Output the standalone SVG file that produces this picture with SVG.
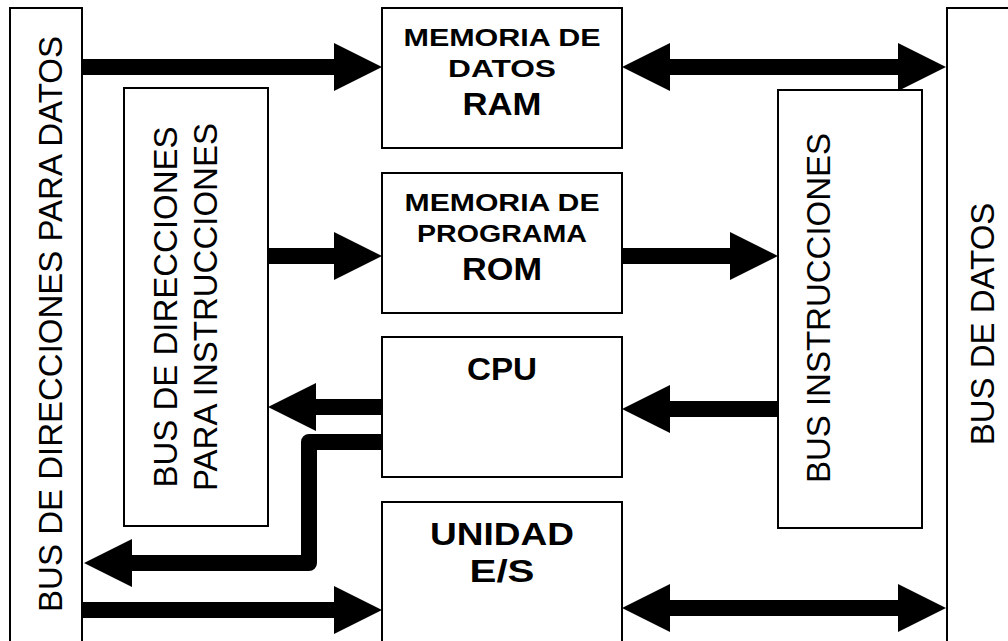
<svg xmlns="http://www.w3.org/2000/svg" width="1008" height="641" viewBox="0 0 1008 641">
<style>
.box{fill:#fff;stroke:#000;stroke-width:2}
.bt{font-family:"Liberation Sans",Arial,sans-serif;font-weight:bold;fill:#000;text-anchor:middle}
.s{font-size:24px}
.b{font-size:32px}
.vt{font-family:"Liberation Sans",Arial,sans-serif;font-size:33px;fill:#000;text-anchor:middle}
.bus{fill:none;stroke:#000;stroke-width:16}
</style>
<defs>
<marker id="ah" markerUnits="userSpaceOnUse" markerWidth="48" markerHeight="48" viewBox="0 0 48 48" refX="0" refY="24" orient="auto-start-reverse">
<path d="M0,0 L48,24 L0,48 Z" fill="#000"/>
</marker>
</defs>
<rect width="1008" height="641" fill="#fff"/>
<g id="bus-dir-datos">
<rect class="box" x="10" y="8" width="72" height="645"/>
<text class="vt" transform="translate(62,324) rotate(-90)">BUS DE DIRECCIONES PARA DATOS</text>
</g>
<g id="bus-dir-instr">
<rect class="box" x="124" y="88" width="144" height="438"/>
<text class="vt" transform="translate(177,307) rotate(-90)">BUS DE DIRECCIONES</text>
<text class="vt" transform="translate(217,307) rotate(-90)">PARA INSTRUCCIONES</text>
</g>
<g id="ram">
<rect class="box" x="382" y="8" width="240" height="140"/>
<text class="bt s" x="502" y="46" textLength="197" lengthAdjust="spacingAndGlyphs">MEMORIA DE</text>
<text class="bt s" x="502" y="77" textLength="108" lengthAdjust="spacingAndGlyphs">DATOS</text>
<text class="bt b" x="502" y="115" textLength="79" lengthAdjust="spacingAndGlyphs">RAM</text>
</g>
<g id="rom">
<rect class="box" x="382" y="173" width="240" height="140"/>
<text class="bt s" x="502" y="211" textLength="195" lengthAdjust="spacingAndGlyphs">MEMORIA DE</text>
<text class="bt s" x="502" y="242" textLength="170" lengthAdjust="spacingAndGlyphs">PROGRAMA</text>
<text class="bt b" x="502" y="280" textLength="80" lengthAdjust="spacingAndGlyphs">ROM</text>
</g>
<g id="cpu">
<rect class="box" x="382" y="337" width="240" height="140"/>
<text class="bt b" x="502" y="380" textLength="70" lengthAdjust="spacingAndGlyphs">CPU</text>
</g>
<g id="es">
<rect class="box" x="382" y="502" width="240" height="150"/>
<text class="bt b" x="502" y="545" textLength="144" lengthAdjust="spacingAndGlyphs">UNIDAD</text>
<text class="bt b" x="502" y="582" textLength="65" lengthAdjust="spacingAndGlyphs">E/S</text>
</g>
<g id="bus-instr">
<rect class="box" x="778" y="90" width="144" height="438"/>
<text class="vt" transform="translate(830,308) rotate(-90)">BUS INSTRUCCIONES</text>
</g>
<g id="bus-datos">
<rect class="box" x="947" y="8" width="80" height="645"/>
<text class="vt" transform="translate(994,324) rotate(-90)">BUS DE DATOS</text>
</g>
<g id="connectors">
<path class="bus" d="M82,67 H334" marker-end="url(#ah)"/>
<path class="bus" d="M670,67 H898" marker-start="url(#ah)" marker-end="url(#ah)"/>
<path class="bus" d="M268,256 H334" marker-end="url(#ah)"/>
<path class="bus" d="M622,256 H730" marker-end="url(#ah)"/>
<path class="bus" d="M778,409 H670" marker-end="url(#ah)"/>
<path class="bus" d="M382,407 H316" marker-end="url(#ah)"/>
<path class="bus" d="M382,442 H309 V563 H132" stroke-linejoin="round" stroke-width="15" marker-end="url(#ah)"/>
<path class="bus" d="M82,610 H334" marker-end="url(#ah)"/>
<path class="bus" d="M670,608 H898" marker-start="url(#ah)" marker-end="url(#ah)"/>
</g>
</svg>
